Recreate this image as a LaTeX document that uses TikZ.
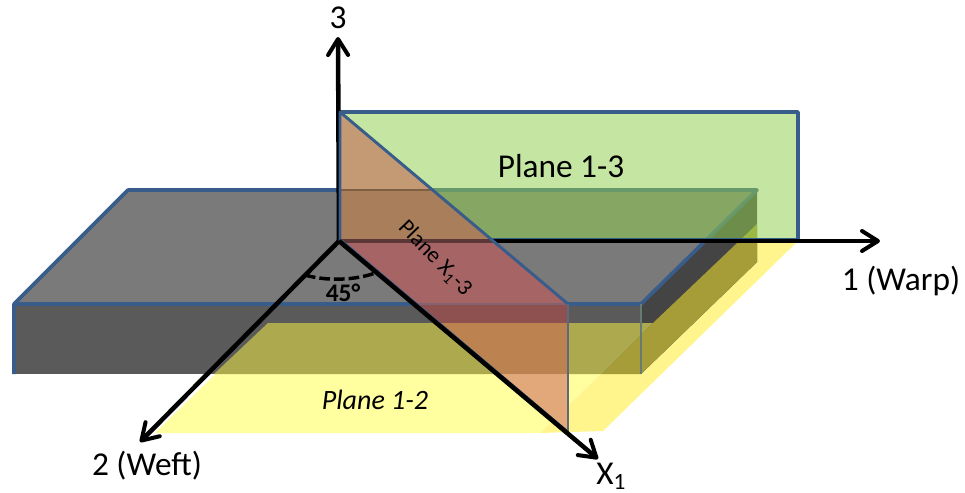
\documentclass[tikz,border=0pt]{standalone}
\usepackage{fontspec}
\setmainfont{Carlito}
\usetikzlibrary{arrows.meta}
\definecolor{yellowA}{RGB}{255,255,160}
\definecolor{yellowB}{RGB}{255,245,140}
\definecolor{boxTop}{RGB}{122,122,122}
\definecolor{boxFront}{RGB}{90,90,90}
\definecolor{boxSide}{RGB}{68,68,68}
\definecolor{oliveA}{RGB}{173,169,79}
\definecolor{oliveB}{RGB}{166,156,56}
\definecolor{edgeBlue}{RGB}{56,93,138}
\definecolor{planeGreen}{RGB}{146,208,80}
\definecolor{redOverGreen}{RGB}{196,154,116}
\definecolor{redOverGreenGray}{RGB}{169,127,91}
\definecolor{redOverGray}{RGB}{166,100,100}
\definecolor{redOverDark}{RGB}{143,80,80}
\definecolor{redOverOlive}{RGB}{188,130,80}
\definecolor{redOverYellow}{RGB}{227,168,122}
\tikzset{
  x=0.75pt,y=-0.75pt,
  boxedge/.style={draw=edgeBlue,line width=2.7pt,line join=round},
  axis/.style={draw=black,line width=3.4pt,-{Straight Barb[round,length=12pt,width=15pt,line width=3pt]}},
  lbl/.style={font=\fontsize{25}{30}\selectfont,inner sep=0pt,text=black}
}
\begin{document}
\begin{tikzpicture}
\useasboundingbox (0,0) rectangle (965,493);
% yellow plane 1-2
\fill[yellowA] (155,433) -- (268,323) -- (653,323) -- (540,433) -- cycle;
\fill[yellowB] (540,433) -- (653,323) -- (735,245) -- (738,241) -- (798,241) -- (603,431) -- cycle;
% box
\fill[boxFront] (14,304) rectangle (641,374);
\fill[boxSide] (641,304) -- (757,190) -- (757,262) -- (641,374) -- cycle;
% plane 1-2 seen through the box
\fill[oliveA] (268,323) -- (653,323) -- (602,374) -- (214,374) -- cycle;
\fill[oliveB] (653,323) -- (735,245) -- (757,224) -- (757,262) -- (641,374) -- (602,374) -- cycle;
\fill[boxTop] (14,304) -- (128,190) -- (757,190) -- (641,304) -- cycle;
\draw[boxedge] (14,374) -- (14,304) -- (128,190) -- (757,190) -- (641,304) -- (14,304);
\draw[edgeBlue!60!oliveA,line width=1.6pt] (641,304) -- (641,374);
% plane 1-3
\fill[planeGreen,fill opacity=0.53] (340,112) rectangle (798,240);
\draw[edgeBlue,line width=2.7pt,line join=round] (340,112) rectangle (798,240);
% axes
\coordinate (O) at (339,241);
\coordinate (A3) at (338,37);
\coordinate (A1) at (880,241);
\coordinate (A2) at (140,442);
\coordinate (AX) at (598,459);
\draw[axis] (O) -- (A1);
\draw[axis] (O) -- (A3);
\draw[axis] (O) -- (A2);
% plane X1-3, by the layer that shows through it
\begin{scope}
\clip (340,112) -- (568,304) -- (568,432) -- (340,241) -- cycle;
\fill[redOverGreen] (330,100) rectangle (580,190);
\fill[redOverGreenGray] (330,190) rectangle (580,241);
\fill[redOverGray] (330,241) rectangle (580,304);
\fill[redOverDark] (330,304) rectangle (580,323);
\fill[redOverOlive] (330,323) rectangle (580,374);
\fill[redOverYellow] (330,374) rectangle (580,440);
\draw[redOverGreenGray!75!black,line width=1.6pt] (330,190) -- (580,190);
\draw[black!45!redOverGray,line width=2.8pt] (330,241) -- (580,241);
\draw[redOverGray!70!edgeBlue,line width=2pt] (330,304) -- (580,304);
\end{scope}
\draw[edgeBlue,line width=2.2pt,line join=round] (340,241) -- (340,112) -- (568,304);
\draw[edgeBlue!70!redOverOlive,line width=1.6pt] (568,304) -- (568,432);
\draw[edgeBlue,line width=1.8pt] (342,241) -- (568,432);
\draw[axis] (O) -- (AX);
% angle
\coordinate (ArcL) at (305,275);
\coordinate (ArcR) at (378,272);
\draw[black,line width=2.6pt,dash pattern=on 8pt off 3pt] (ArcL) .. controls (325,281) and (355,281) .. (ArcR);
% labels
\node[lbl] (n3) at (338,18) {3};
\node[lbl] (n1) at (901,281) {1 (Warp)};
\node[lbl] (n2) at (147,466) {2 (Weft)};
\node[lbl,anchor=west] (nx) at (596,476) {X\textsubscript{1}};
\node[lbl] (p13) at (561,166) {Plane 1-3};
\node[font=\fontsize{21}{25}\selectfont\itshape,inner sep=0pt] (p12) at (375,400) {Plane 1-2};
\node[font=\fontsize{17}{20}\selectfont,inner sep=0pt,rotate=-46] (px) at (435,258) {Plane X\textsubscript{1}-3};
\node[font=\fontsize{19}{22}\selectfont\bfseries,inner sep=0pt] (ang) at (343,293) {45°};
\end{tikzpicture}
\end{document}
